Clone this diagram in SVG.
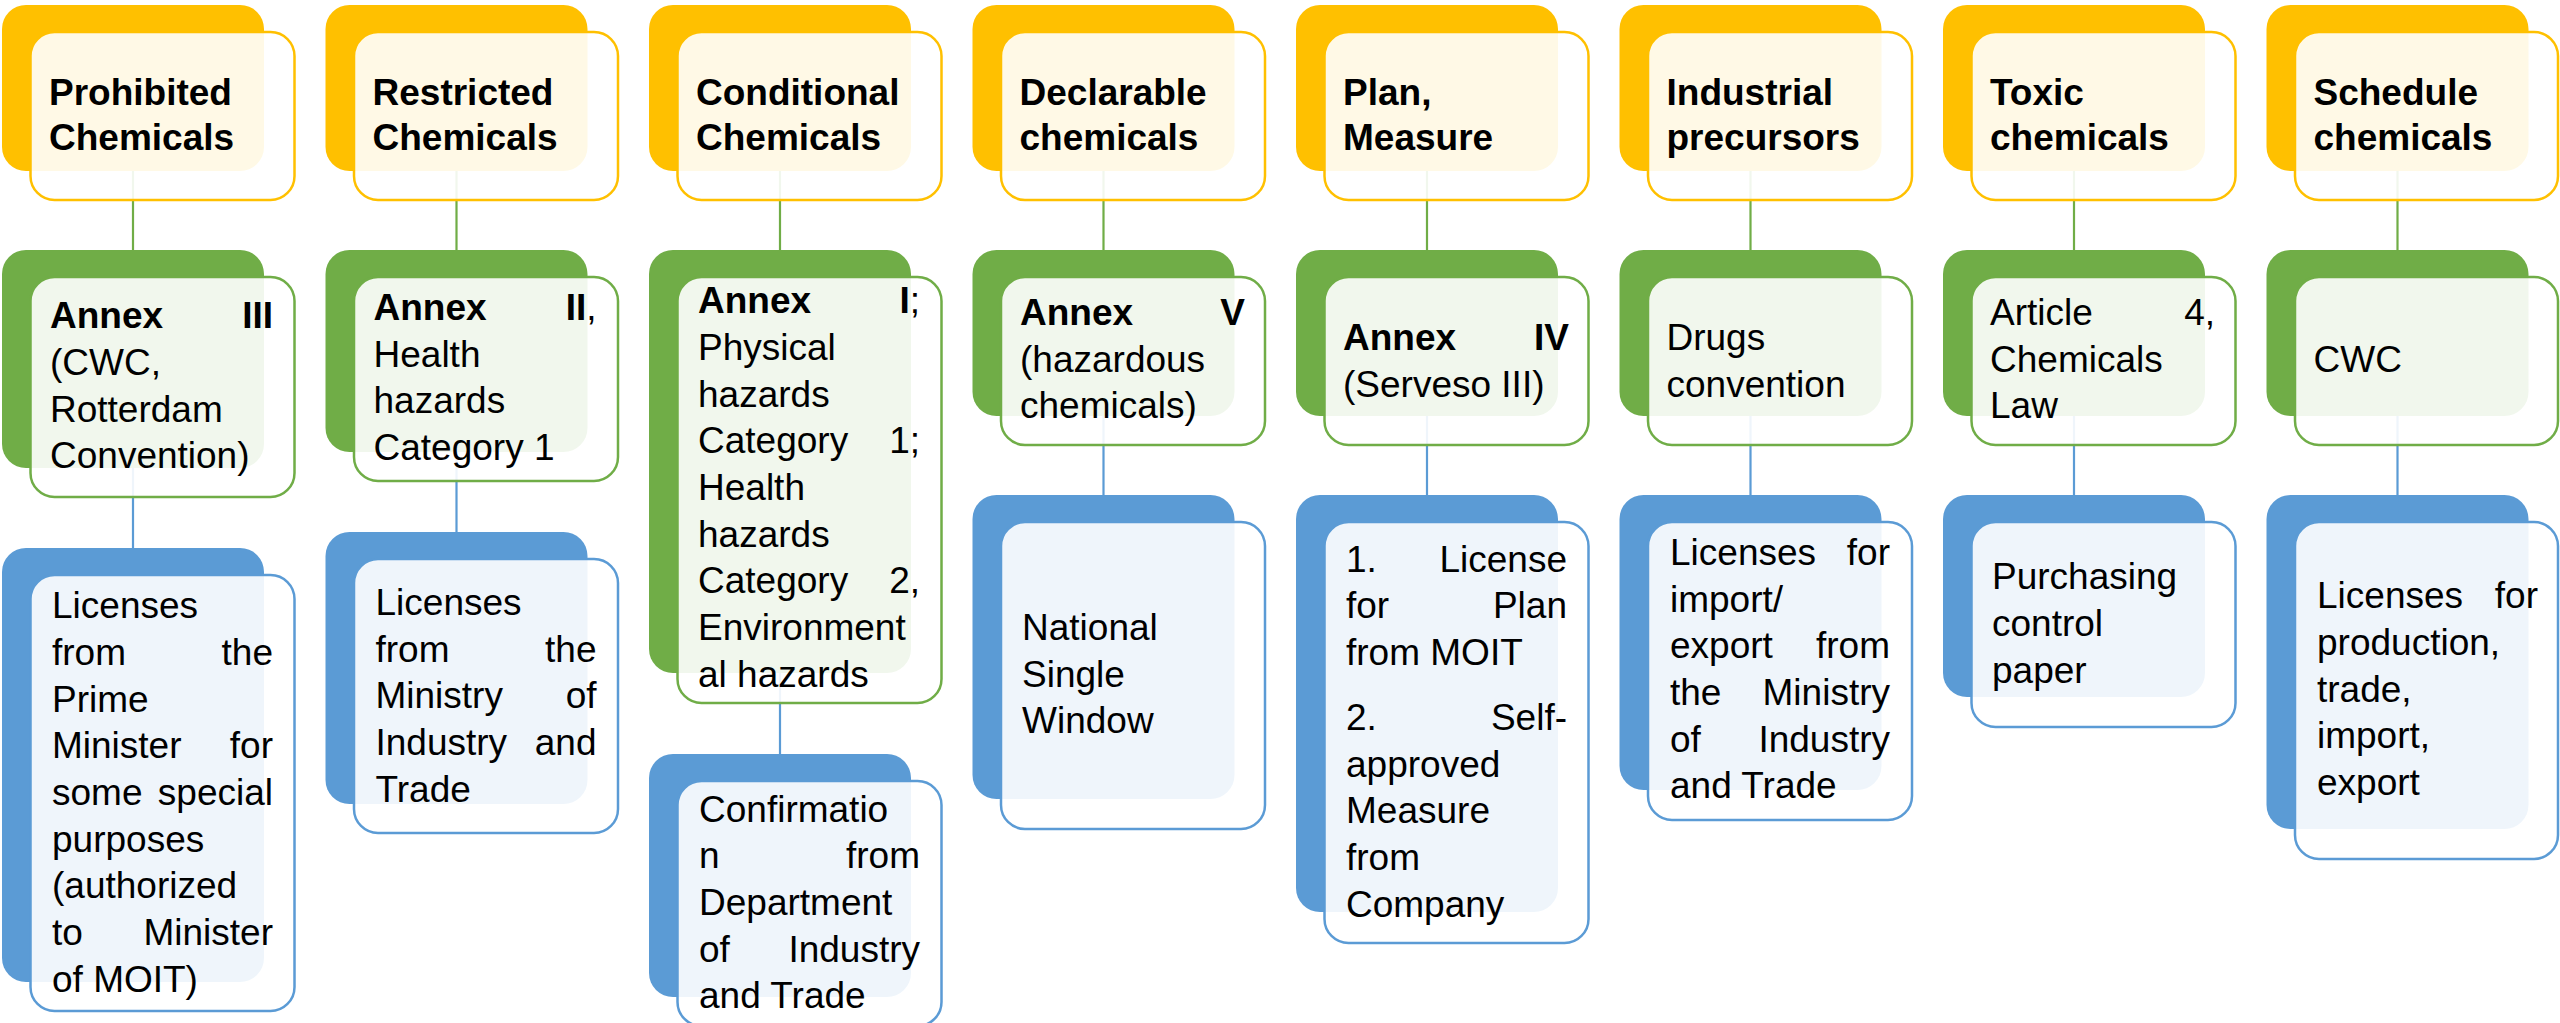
<svg xmlns="http://www.w3.org/2000/svg" width="2560" height="1023" viewBox="0 0 2560 1023">
<style>
.by{fill:#FFC000}.bg{fill:#70AD47}.bb{fill:#5B9BD5}
.f{fill:#FFFFFF;fill-opacity:0.9;stroke-width:2.5}
.fy{stroke:#FFC000}.fg{stroke:#70AD47}.fb{stroke:#5B9BD5}
.cg{stroke:#70AD47;stroke-width:2.2;fill:none}.cb{stroke:#5B9BD5;stroke-width:2.2;fill:none}
text{font-family:"Liberation Sans",Arial,sans-serif;font-size:37px;fill:#000}
.b{font-weight:bold}.e{text-anchor:end}
</style>
<rect width="2560" height="1023" fill="#FFFFFF"/>
<g id="connectors">
<path class="cg" d="M133,171V250M456.5,171V250M780,171V250M1103.5,171V250M1427,171V250M1750.5,171V250M2074,171V250M2397.5,171V250"/>
<path class="cb" d="M133,468V548M456.5,452V532M780,673V754M1103.5,416V495M1427,416V495M1750.5,416V495M2074,416V495M2397.5,416V495"/>
</g>

<!-- Column 1 -->
<g id="prohibited">
<rect class="by" x="2" y="5" width="262" height="166" rx="24"/>
<rect class="f fy" x="30.5" y="32" width="264" height="168" rx="24"/>
<text class="b" x="49" y="105">Prohibited</text>
<text class="b" x="49" y="150">Chemicals</text>
</g>
<g id="annex3">
<rect class="bg" x="2" y="250" width="262" height="218" rx="24"/>
<rect class="f fg" x="30.5" y="277" width="264" height="220" rx="24"/>
<text class="b" x="50" y="328.3">Annex</text><text class="b e" x="273" y="328.3">III</text>
<text x="50" y="375">(CWC,</text>
<text x="50" y="421.7">Rotterdam</text>
<text x="50" y="468.3">Convention)</text>
</g>
<g id="lic-pm">
<rect class="bb" x="2" y="548" width="262" height="434" rx="24"/>
<rect class="f fb" x="30.5" y="575" width="264" height="436" rx="24"/>
<text x="52" y="618.3">Licenses</text>
<text x="52" y="665">from</text><text class="e" x="273" y="665">the</text>
<text x="52" y="711.7">Prime</text>
<text x="52" y="758.3">Minister</text><text class="e" x="273" y="758.3">for</text>
<text x="52" y="805">some</text><text class="e" x="273" y="805">special</text>
<text x="52" y="851.7">purposes</text>
<text x="52" y="898.3">(authorized</text>
<text x="52" y="945">to</text><text class="e" x="273" y="945">Minister</text>
<text x="52" y="991.7">of MOIT)</text>
</g>

<!-- Column 2 -->
<g id="restricted">
<rect class="by" x="325.5" y="5" width="262" height="166" rx="24"/>
<rect class="f fy" x="354" y="32" width="264" height="168" rx="24"/>
<text class="b" x="372.5" y="105">Restricted</text>
<text class="b" x="372.5" y="150">Chemicals</text>
</g>
<g id="annex2">
<rect class="bg" x="325.5" y="250" width="262" height="202" rx="24"/>
<rect class="f fg" x="354" y="277" width="264" height="204" rx="24"/>
<text class="b" x="373.5" y="320">Annex</text><text class="e" x="596.5" y="320"><tspan class="b">II</tspan>,</text>
<text x="373.5" y="366.7">Health</text>
<text x="373.5" y="413.3">hazards</text>
<text x="373.5" y="460">Category 1</text>
</g>
<g id="lic-moit">
<rect class="bb" x="325.5" y="532" width="262" height="272" rx="24"/>
<rect class="f fb" x="354" y="559" width="264" height="274" rx="24"/>
<text x="375.5" y="615">Licenses</text>
<text x="375.5" y="661.7">from</text><text class="e" x="596.5" y="661.7">the</text>
<text x="375.5" y="708.3">Ministry</text><text class="e" x="596.5" y="708.3">of</text>
<text x="375.5" y="755">Industry</text><text class="e" x="596.5" y="755">and</text>
<text x="375.5" y="801.7">Trade</text>
</g>

<!-- Column 3 -->
<g id="conditional">
<rect class="by" x="649" y="5" width="262" height="166" rx="24"/>
<rect class="f fy" x="677.5" y="32" width="264" height="168" rx="24"/>
<text class="b" x="696" y="105">Conditional</text>
<text class="b" x="696" y="150">Chemicals</text>
</g>
<g id="annex1">
<rect class="bg" x="649" y="250" width="262" height="423" rx="24"/>
<rect class="f fg" x="677.5" y="277" width="264" height="426" rx="24"/>
<text class="b" x="698" y="313.3">Annex</text><text class="e" x="920" y="313.3"><tspan class="b">I</tspan>;</text>
<text x="698" y="360">Physical</text>
<text x="698" y="406.7">hazards</text>
<text x="698" y="453.3">Category</text><text class="e" x="920" y="453.3">1;</text>
<text x="698" y="500">Health</text>
<text x="698" y="546.7">hazards</text>
<text x="698" y="593.3">Category</text><text class="e" x="920" y="593.3">2,</text>
<text x="698" y="640">Environment</text>
<text x="698" y="686.7">al hazards</text>
</g>
<g id="confirmation">
<rect class="bb" x="649" y="754" width="262" height="243" rx="24"/>
<rect class="f fb" x="677.5" y="781" width="264" height="245" rx="24"/>
<text x="699" y="821.7">Confirmatio</text>
<text x="699" y="868.3">n</text><text class="e" x="920" y="868.3">from</text>
<text x="699" y="915">Department</text>
<text x="699" y="961.7">of</text><text class="e" x="920" y="961.7">Industry</text>
<text x="699" y="1008.3">and Trade</text>
</g>

<!-- Column 4 -->
<g id="declarable">
<rect class="by" x="972.5" y="5" width="262" height="166" rx="24"/>
<rect class="f fy" x="1001" y="32" width="264" height="168" rx="24"/>
<text class="b" x="1019.5" y="105">Declarable</text>
<text class="b" x="1019.5" y="150">chemicals</text>
</g>
<g id="annex5">
<rect class="bg" x="972.5" y="250" width="262" height="166" rx="24"/>
<rect class="f fg" x="1001" y="277" width="264" height="168" rx="24"/>
<text class="b" x="1020" y="325">Annex</text><text class="b e" x="1245" y="325">V</text>
<text x="1020" y="371.7">(hazardous</text>
<text x="1020" y="418.3">chemicals)</text>
</g>
<g id="nsw">
<rect class="bb" x="972.5" y="495" width="262" height="304" rx="24"/>
<rect class="f fb" x="1001" y="522" width="264" height="307" rx="24"/>
<text x="1022" y="640">National</text>
<text x="1022" y="686.7">Single</text>
<text x="1022" y="733.3">Window</text>
</g>

<!-- Column 5 -->
<g id="plan">
<rect class="by" x="1296" y="5" width="262" height="166" rx="24"/>
<rect class="f fy" x="1324.5" y="32" width="264" height="168" rx="24"/>
<text class="b" x="1343" y="105">Plan,</text>
<text class="b" x="1343" y="150">Measure</text>
</g>
<g id="annex4">
<rect class="bg" x="1296" y="250" width="262" height="166" rx="24"/>
<rect class="f fg" x="1324.5" y="277" width="264" height="168" rx="24"/>
<text class="b" x="1343" y="350">Annex</text><text class="b e" x="1569" y="350">IV</text>
<text x="1343" y="396.7">(Serveso III)</text>
</g>
<g id="lic-plan">
<rect class="bb" x="1296" y="495" width="262" height="417" rx="24"/>
<rect class="f fb" x="1324.5" y="522" width="264" height="421" rx="24"/>
<text x="1346" y="571.7">1.</text><text class="e" x="1567" y="571.7">License</text>
<text x="1346" y="618.3">for</text><text class="e" x="1567" y="618.3">Plan</text>
<text x="1346" y="665">from MOIT</text>
<text x="1346" y="730">2.</text><text class="e" x="1567" y="730">Self-</text>
<text x="1346" y="776.7">approved</text>
<text x="1346" y="823.3">Measure</text>
<text x="1346" y="870">from</text>
<text x="1346" y="916.7">Company</text>
</g>

<!-- Column 6 -->
<g id="industrial">
<rect class="by" x="1619.5" y="5" width="262" height="166" rx="24"/>
<rect class="f fy" x="1648" y="32" width="264" height="168" rx="24"/>
<text class="b" x="1666.5" y="105">Industrial</text>
<text class="b" x="1666.5" y="150">precursors</text>
</g>
<g id="drugs">
<rect class="bg" x="1619.5" y="250" width="262" height="166" rx="24"/>
<rect class="f fg" x="1648" y="277" width="264" height="168" rx="24"/>
<text x="1666.5" y="350">Drugs</text>
<text x="1666.5" y="396.7">convention</text>
</g>
<g id="lic-imex">
<rect class="bb" x="1619.5" y="495" width="262" height="295" rx="24"/>
<rect class="f fb" x="1648" y="522" width="264" height="298" rx="24"/>
<text x="1670" y="565">Licenses</text><text class="e" x="1890" y="565">for</text>
<text x="1670" y="611.7">import/</text>
<text x="1670" y="658.3">export</text><text class="e" x="1890" y="658.3">from</text>
<text x="1670" y="705">the</text><text class="e" x="1890" y="705">Ministry</text>
<text x="1670" y="751.7">of</text><text class="e" x="1890" y="751.7">Industry</text>
<text x="1670" y="798.3">and Trade</text>
</g>

<!-- Column 7 -->
<g id="toxic">
<rect class="by" x="1943" y="5" width="262" height="166" rx="24"/>
<rect class="f fy" x="1971.5" y="32" width="264" height="168" rx="24"/>
<text class="b" x="1990" y="105">Toxic</text>
<text class="b" x="1990" y="150">chemicals</text>
</g>
<g id="article4">
<rect class="bg" x="1943" y="250" width="262" height="166" rx="24"/>
<rect class="f fg" x="1971.5" y="277" width="264" height="168" rx="24"/>
<text x="1990" y="325">Article</text><text class="e" x="2215" y="325">4,</text>
<text x="1990" y="371.7">Chemicals</text>
<text x="1990" y="418.3">Law</text>
</g>
<g id="purchasing">
<rect class="bb" x="1943" y="495" width="262" height="202" rx="24"/>
<rect class="f fb" x="1971.5" y="522" width="264" height="205" rx="24"/>
<text x="1992" y="589.3">Purchasing</text>
<text x="1992" y="636">control</text>
<text x="1992" y="682.7">paper</text>
</g>

<!-- Column 8 -->
<g id="schedule">
<rect class="by" x="2266.5" y="5" width="262" height="166" rx="24"/>
<rect class="f fy" x="2295" y="32" width="263" height="168" rx="24"/>
<text class="b" x="2313.5" y="105">Schedule</text>
<text class="b" x="2313.5" y="150">chemicals</text>
</g>
<g id="cwc">
<rect class="bg" x="2266.5" y="250" width="262" height="166" rx="24"/>
<rect class="f fg" x="2295" y="277" width="263" height="168" rx="24"/>
<text x="2313.5" y="371.7">CWC</text>
</g>
<g id="lic-prod">
<rect class="bb" x="2266.5" y="495" width="262" height="334" rx="24"/>
<rect class="f fb" x="2295" y="522" width="263" height="337" rx="24"/>
<text x="2317" y="608.3">Licenses</text><text class="e" x="2538" y="608.3">for</text>
<text x="2317" y="655">production,</text>
<text x="2317" y="701.7">trade,</text>
<text x="2317" y="748.3">import,</text>
<text x="2317" y="795">export</text>
</g>
</svg>
